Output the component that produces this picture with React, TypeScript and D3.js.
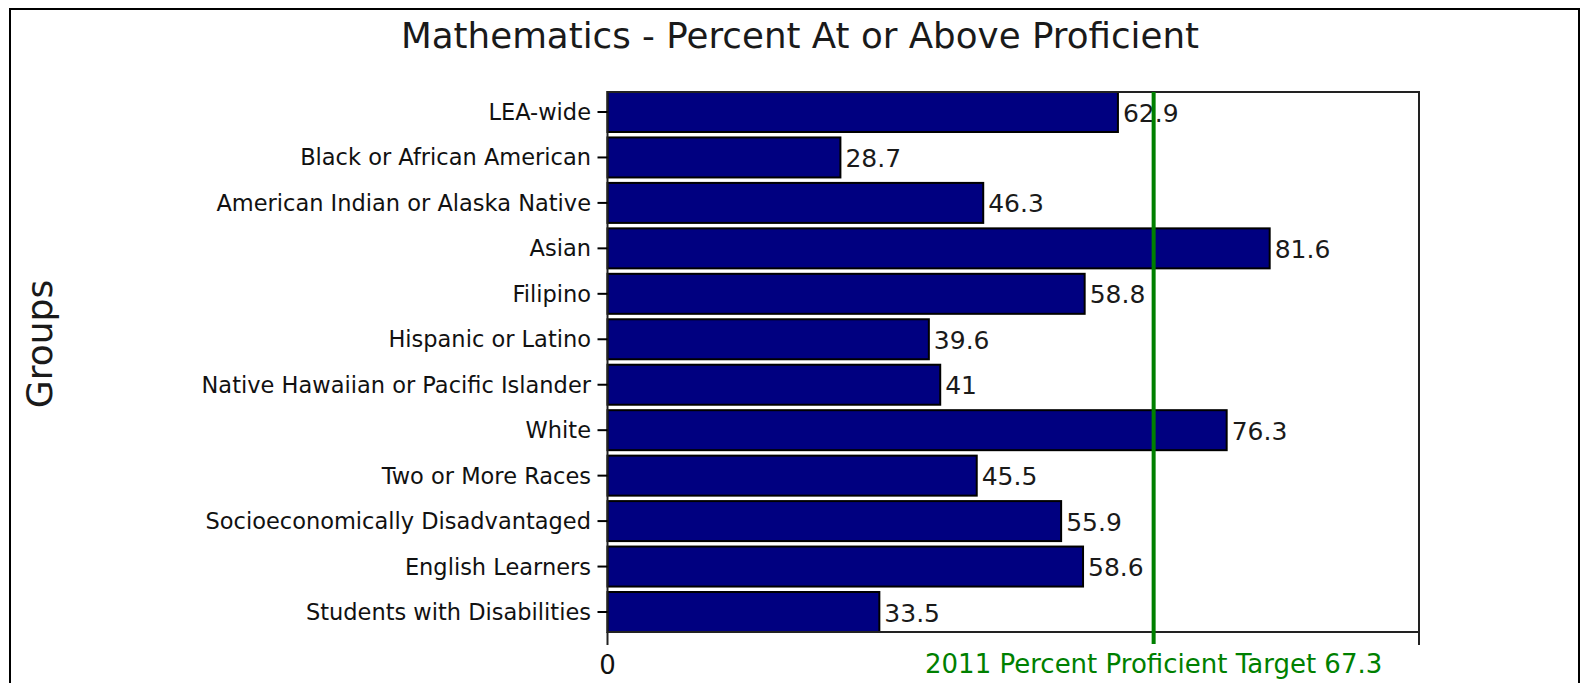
import React from "react";
import * as d3 from "d3";

const categories = [
  "LEA-wide",
  "Black or African American",
  "American Indian or Alaska Native",
  "Asian",
  "Filipino",
  "Hispanic or Latino",
  "Native Hawaiian or Pacific Islander",
  "White",
  "Two or More Races",
  "Socioeconomically Disadvantaged",
  "English Learners",
  "Students with Disabilities",
];
const values = [62.9, 28.7, 46.3, 81.6, 58.8, 39.6, 41, 76.3, 45.5, 55.9, 58.6, 33.5];
const valueLabels = ["62.9", "28.7", "46.3", "81.6", "58.8", "39.6", "41", "76.3", "45.5", "55.9", "58.6", "33.5"];
const xDomain = [0, 100];
const xTickValues = [0, 100];
const xTickLabels = ["0", ""];
const targetValue = 67.3;
const targetLabel = "2011 Percent Proficient Target 67.3";
const title = "Mathematics - Percent At or Above Proficient";
const yTitle = "Groups";

const W = 1581;
const H = 683;
const FONT = "'DejaVu Sans', Verdana, sans-serif";

export default function App() {
  const left = 607.5;
  const right = 1419;
  const top = 92;
  const bottom = 632;

  const x = d3.scaleLinear().domain(xDomain).range([left, right]);
  const y = d3
    .scaleBand<string>()
    .domain(categories)
    .range([top, bottom])
    .paddingInner(0.12)
    .paddingOuter(0);
  const bw = y.bandwidth();

  return (
    <svg
      width={W}
      height={H}
      style={{ position: "absolute", left: 0, top: 0, background: "#fff" }}
    >
      <rect x={0} y={0} width={W} height={H} fill="#fff" />
      {/* outer border */}
      <rect x={10} y={9} width={1569} height={720} fill="none" stroke="#000" strokeWidth={2} />

      {/* title */}
      <text
        x={800}
        y={48}
        textAnchor="middle"
        fontFamily={FONT}
        fontSize={35}
        fill="#1a1a1a"
        textLength={798}
        lengthAdjust="spacingAndGlyphs"
      >
        {title}
      </text>

      {/* y title */}
      <text
        transform={`translate(52,344) rotate(-90)`}
        textAnchor="middle"
        fontFamily={FONT}
        fontSize={36}
        fill="#1a1a1a"
      >
        {yTitle}
      </text>

      {/* bars */}
      {categories.map((c, i) => (
        <rect
          key={c}
          x={x(0)}
          y={y(c)!}
          width={x(values[i]) - x(0)}
          height={bw}
          fill="#000080"
          stroke="#000"
          strokeWidth={2}
        />
      ))}

      {/* plot frame */}
      <rect x={left} y={top} width={right - left} height={bottom - top} fill="none" stroke="#222" strokeWidth={2} />

      {/* category ticks and labels */}
      {categories.map((c) => {
        const cy = y(c)! + bw / 2;
        return (
          <g key={"t" + c}>
            <line x1={left - 10} x2={left} y1={cy} y2={cy} stroke="#000" strokeWidth={2} />
            <text
              x={591}
              y={cy + 8}
              textAnchor="end"
              fontFamily={FONT}
              fontSize={22.5}
              fill="#111"
            >
              {c}
            </text>
          </g>
        );
      })}

      {/* x ticks */}
      {xTickValues.map((v, i) => (
        <g key={"x" + v}>
          <line x1={x(v)} x2={x(v)} y1={bottom} y2={bottom + 13} stroke="#222" strokeWidth={2} />
          <text x={x(v)} y={674} textAnchor="middle" fontFamily={FONT} fontSize={26} fill="#111">
            {xTickLabels[i]}
          </text>
        </g>
      ))}

      {/* value labels */}
      {categories.map((c, i) => (
        <text
          key={"v" + c}
          x={x(values[i]) + 5}
          y={y(c)! + bw / 2 + 9.5}
          fontFamily={FONT}
          fontSize={25}
          fill="#1a1a1a"
        >
          {valueLabels[i]}
        </text>
      ))}

      {/* target line */}
      <line
        x1={x(targetValue)}
        x2={x(targetValue)}
        y1={top}
        y2={bottom + 12}
        stroke="#008000"
        strokeWidth={4}
      />
      <text
        x={x(targetValue)}
        y={673}
        textAnchor="middle"
        fontFamily={FONT}
        fontSize={26}
        fill="#008000"
      >
        {targetLabel}
      </text>
    </svg>
  );
}
